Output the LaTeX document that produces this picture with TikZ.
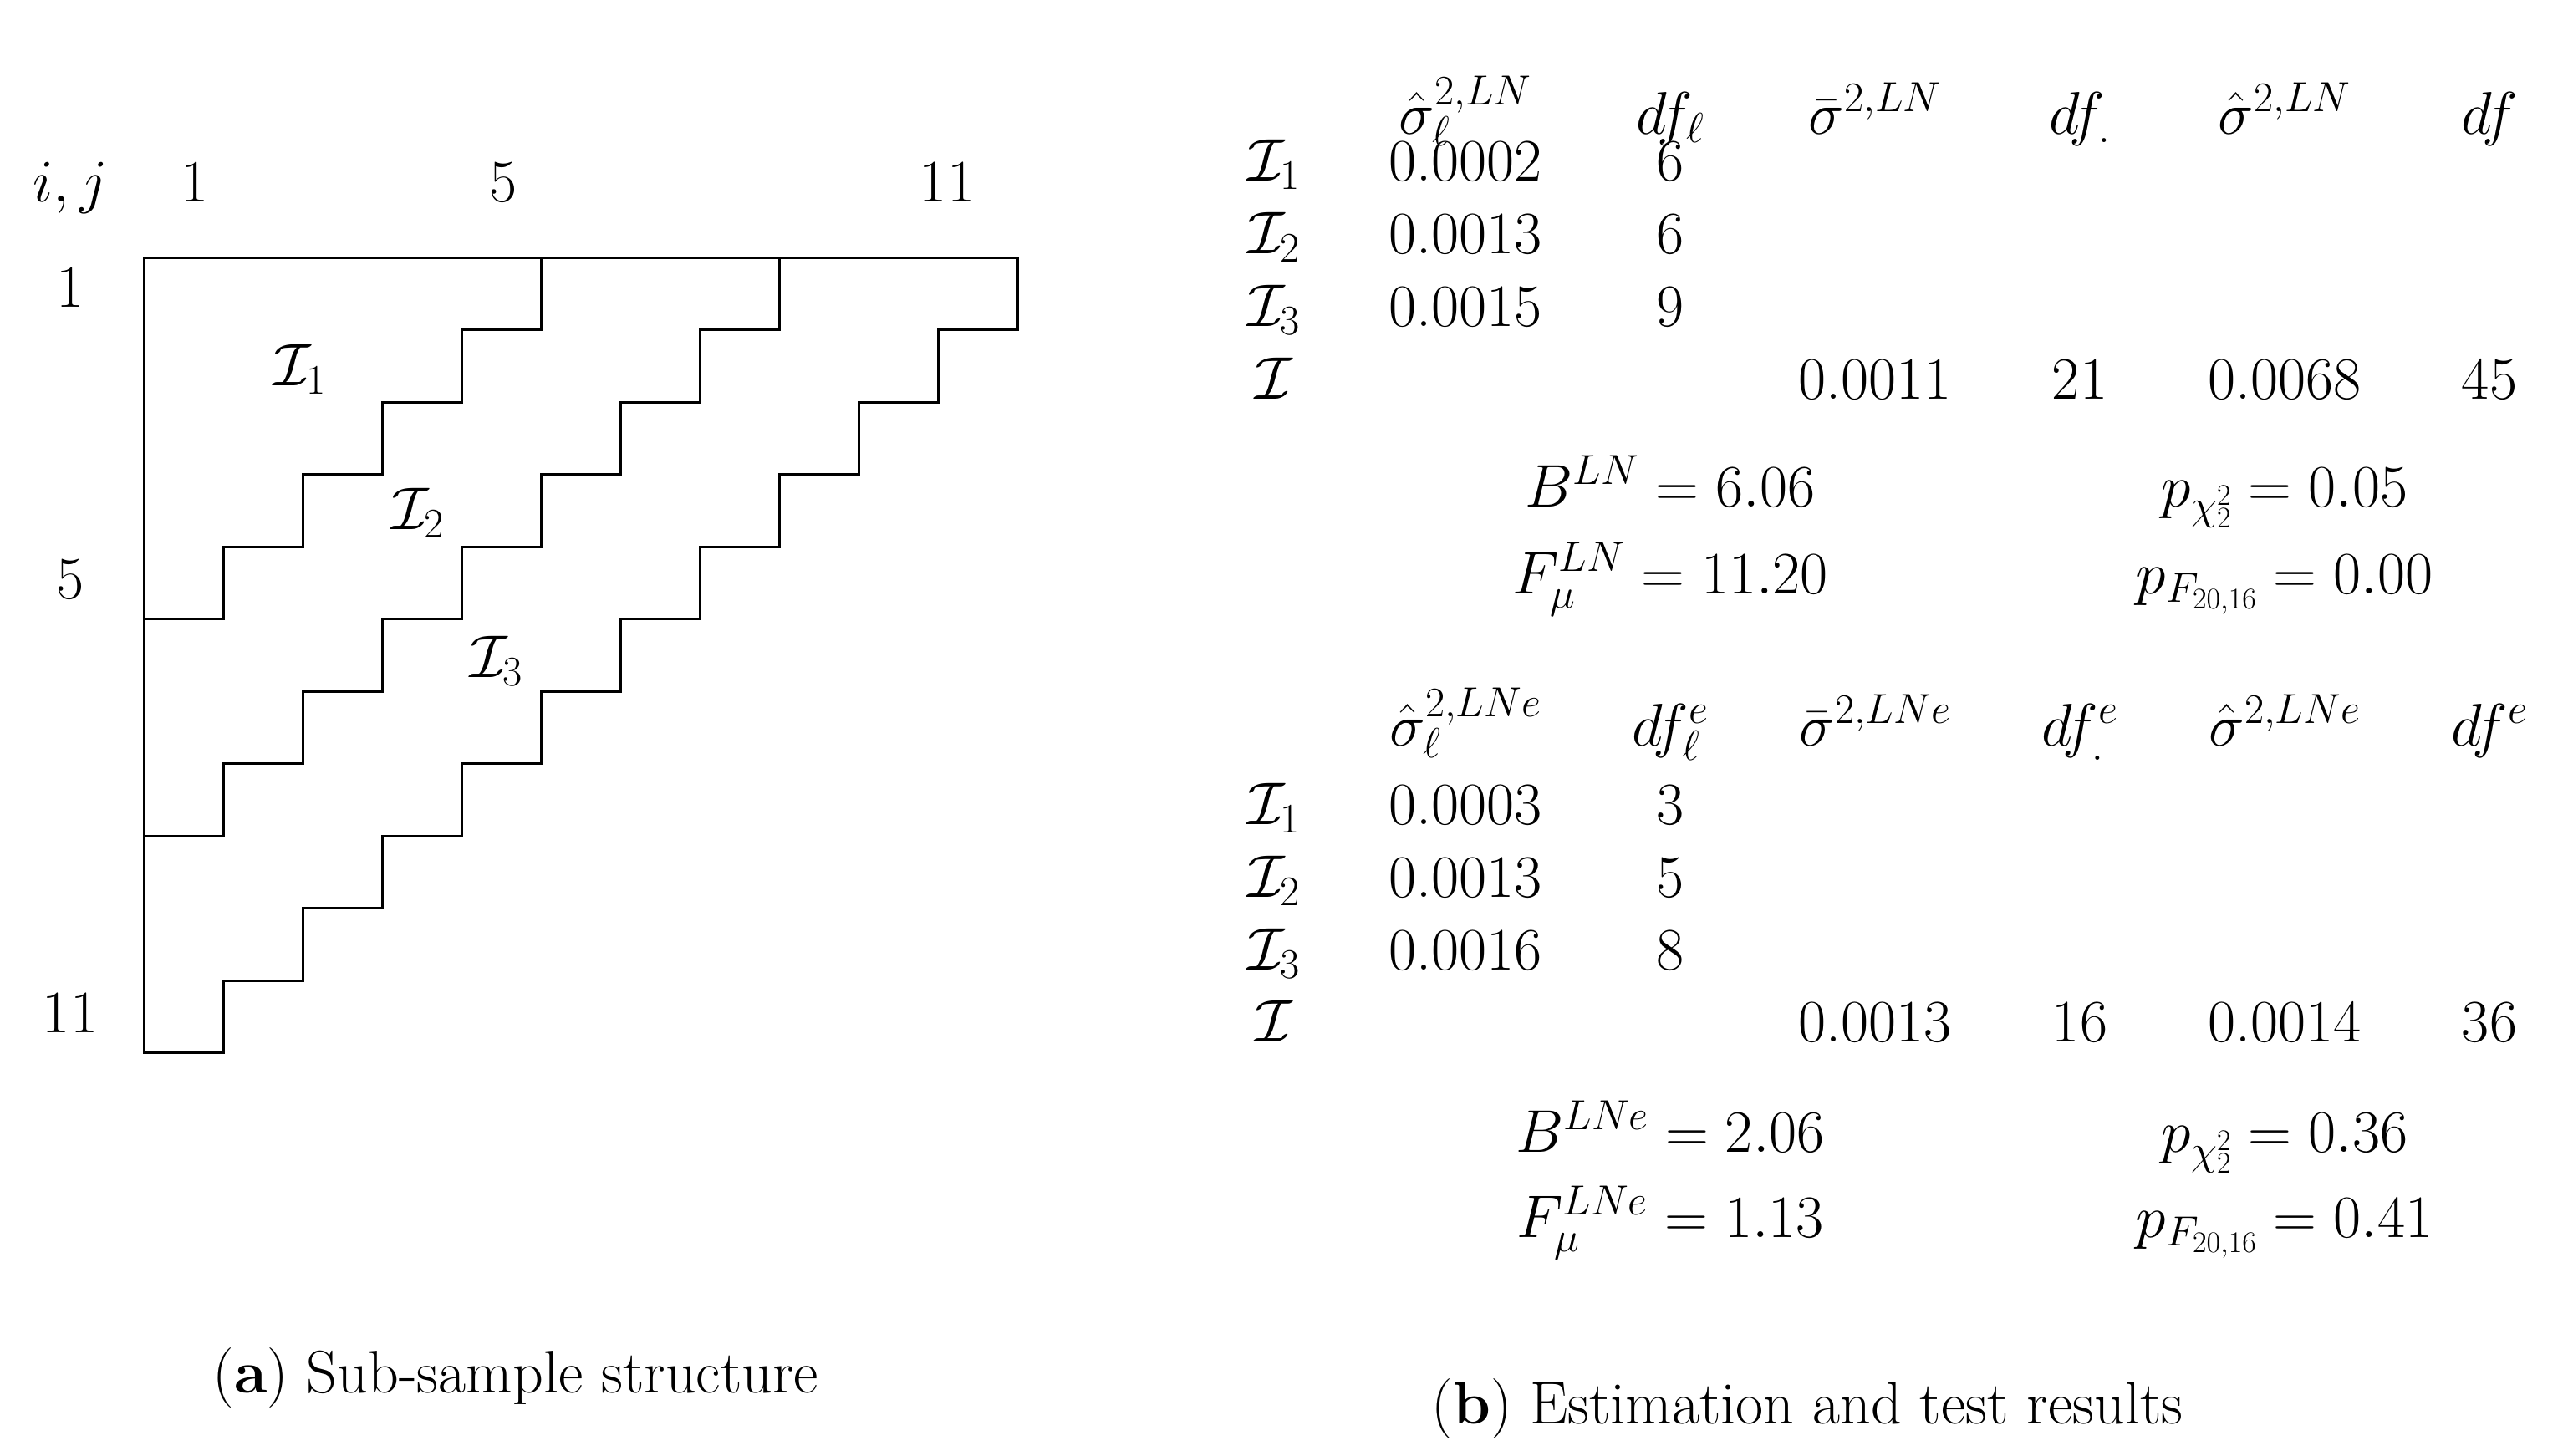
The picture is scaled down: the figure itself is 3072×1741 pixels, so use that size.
\RequirePackage{fix-cm}
\documentclass[tikz,border=0pt]{standalone}
\usepackage{amsmath}
\begin{document}
\begin{tikzpicture}[x=1pt,y=-1pt,
  t/.style={anchor=base,inner sep=0pt,font=\fontsize{72}{86}\selectfont},
  stair/.style={line width=3pt,line join=miter}]
\useasboundingbox (0,0) rectangle (3072,1741);
% staircase
\begin{scope}[shift={(172,308)},x=95pt,y=-86.5pt]
\draw[stair] (0,0) -- (11,0) \foreach \k in {0,...,10}{ -- ({11-\k},{\k+1}) -- ({10-\k},{\k+1})} -- cycle;
\draw[stair] (5,0) \foreach \k in {0,...,4}{ -- ({5-\k},{\k+1}) -- ({4-\k},{\k+1})};
\draw[stair] (8,0) \foreach \k in {0,...,7}{ -- ({8-\k},{\k+1}) -- ({7-\k},{\k+1})};
\end{scope}
\node[t] (ij) at (84,241) {$i,j$};
\node[t] (c1) at (233,241) {1};
\node[t] (c5) at (602,241) {5};
\node[t] (c11) at (1133,241) {11};
\node[t] (r1) at (84,367) {1};
\node[t] (r5) at (84,716) {5};
\node[t] (r11) at (84,1235) {11};
\node[t] (i1) at (359,461) {$\mathcal{I}_1$};
\node[t] (i2) at (500,633) {$\mathcal{I}_2$};
\node[t] (i3) at (594,810) {$\mathcal{I}_3$};
% table 1
\node[t] (h1) at (1753,160) {$\hat\sigma^{2,LN}_\ell$};
\node[t] (h2) at (1998,160) {$df_\ell$};
\node[t] (h3) at (2243,160) {$\bar\sigma^{2,LN}$};
\node[t] (h4) at (2488,160) {$df_{.}$};
\node[t] (h5) at (2733,160) {$\hat\sigma^{2,LN}$};
\node[t] (h6) at (2978,160) {$df$};
\node[t] (a1) at (1524,216) {$\mathcal{I}_1$};
\node[t] (a2) at (1524,303) {$\mathcal{I}_2$};
\node[t] (a3) at (1524,390) {$\mathcal{I}_3$};
\node[t] (a4) at (1524,477) {$\mathcal{I}$};
\node[t] (v11) at (1753,216) {0.0002};
\node[t] (v12) at (1998,216) {6};
\node[t] (v21) at (1753,303) {0.0013};
\node[t] (v22) at (1998,303) {6};
\node[t] (v31) at (1753,390) {0.0015};
\node[t] (v32) at (1998,390) {9};
\node[t] (v43) at (2243,477) {0.0011};
\node[t] (v44) at (2488,477) {21};
\node[t] (v45) at (2733,477) {0.0068};
\node[t] (v46) at (2978,477) {45};
\node[t] (b1) at (1998,606) {$B^{LN}=6.06$};
\node[t] (f1) at (1998,710) {$F^{LN}_\mu=11.20$};
\node[t] (p1) at (2733,606) {$p_{\chi^2_2}=0.05$};
\node[t] (q1) at (2733,710) {$p_{F_{20,16}}=0.00$};
% table 2
\node[t] (H1) at (1753,892) {$\hat\sigma^{2,LNe}_\ell$};
\node[t] (H2) at (1998,892) {$df^e_\ell$};
\node[t] (H3) at (2243,892) {$\bar\sigma^{2,LNe}$};
\node[t] (H4) at (2488,892) {$df^e_{.}$};
\node[t] (H5) at (2733,892) {$\hat\sigma^{2,LNe}$};
\node[t] (H6) at (2978,892) {$df^e$};
\node[t] (A1) at (1524,986) {$\mathcal{I}_1$};
\node[t] (A2) at (1524,1073) {$\mathcal{I}_2$};
\node[t] (A3) at (1524,1160) {$\mathcal{I}_3$};
\node[t] (A4) at (1524,1246) {$\mathcal{I}$};
\node[t] (V11) at (1753,986) {0.0003};
\node[t] (V12) at (1998,986) {3};
\node[t] (V21) at (1753,1073) {0.0013};
\node[t] (V22) at (1998,1073) {5};
\node[t] (V31) at (1753,1160) {0.0016};
\node[t] (V32) at (1998,1160) {8};
\node[t] (V43) at (2243,1246) {0.0013};
\node[t] (V44) at (2488,1246) {16};
\node[t] (V45) at (2733,1246) {0.0014};
\node[t] (V46) at (2978,1246) {36};
\node[t] (b2) at (1998,1378) {$B^{LNe}=2.06$};
\node[t] (f2) at (1998,1480) {$F^{LNe}_\mu=1.13$};
\node[t] (p2) at (2733,1378) {$p_{\chi^2_2}=0.36$};
\node[t] (q2) at (2733,1480) {$p_{F_{20,16}}=0.41$};
% captions
\node[t] (capa) at (617,1666) {(\textbf{a}) Sub-sample structure};
\node[t] (capb) at (2162,1703) {(\textbf{b}) Estimation and test results};
\end{tikzpicture}
\end{document}
